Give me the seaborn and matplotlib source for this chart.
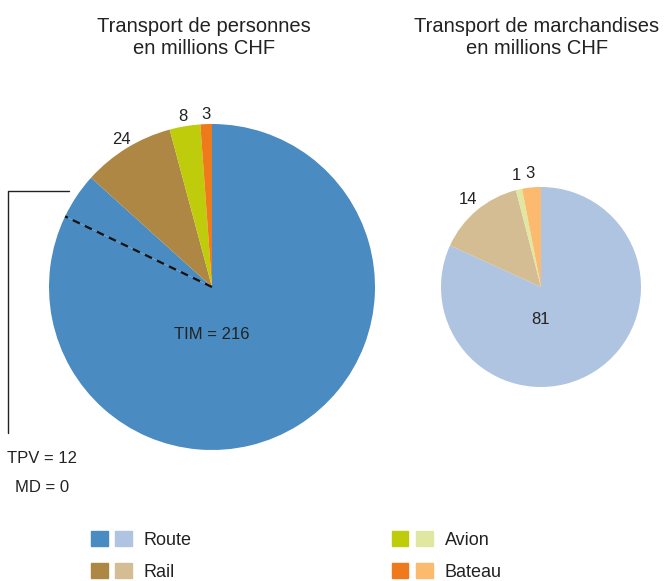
import numpy as np
import matplotlib
matplotlib.use("Agg")
import matplotlib.pyplot as plt
import seaborn as sns
from matplotlib.patches import Patch
from matplotlib.legend_handler import HandlerTuple

# data
modes = ["Route", "Rail", "Avion", "Bateau"]
pers_values = [228, 24, 8, 3]          # Route = TIM 216 + TPV 12 + MD 0
pers_tim = 216
pers_tpv = 12
pers_md = 0
march_values = [81, 14, 1, 3]
dark_colors = ["#4A8BC1", "#AE8744", "#BFCC0C", "#EE7A1B"]
light_colors = ["#AFC4E0", "#D4BD93", "#DFE7A0", "#FBBA6D"]
titles = ["Transport de personnes\nen millions CHF",
          "Transport de marchandises\nen millions CHF"]

sns.set_theme(style="white")
plt.rcParams["font.family"] = ["Liberation Sans", "DejaVu Sans"]
txt = "#222222"

fig = plt.figure(figsize=(6.64, 5.81), dpi=100)
W, H = 664, 581


def pie_axes(cx, cy, r):
    return fig.add_axes([(cx - r) / W, (H - cy - r) / H, 2 * r / W, 2 * r / H])


# left pie: Route split into TIM and TPV
ax1 = pie_axes(212, 287, 163)
left_vals = [pers_tim, pers_tpv] + pers_values[1:]
left_cols = [dark_colors[0], dark_colors[0]] + dark_colors[1:]
left_labels = ["", ""] + [str(v) for v in pers_values[1:]]
wedges, texts = ax1.pie(left_vals, colors=left_cols, labels=left_labels,
                        startangle=90, counterclock=False, labeldistance=1.06,
                        textprops=dict(fontsize=12, color=txt, ha="center", va="center"),
                        wedgeprops=dict(linewidth=0))
ax1.set_xlim(-1, 1)
ax1.set_ylim(-1, 1)
ax1.set_aspect("equal")

# dashed line between TIM and TPV
a = np.deg2rad(wedges[0].theta1)
ax1.plot([0, np.cos(a)], [0, np.sin(a)], color="#111111", ls=(0, (3.5, 2.5)), lw=1.6)
ax1.text(0, -0.29, f"TIM = {pers_tim}", fontsize=12, color=txt, ha="center", va="center")

# bracket for TPV / MD
tpv_mid = np.deg2rad((wedges[1].theta1 + wedges[1].theta2) / 2 - 2)
yb = np.sin(tpv_mid)
ax1.plot([-0.88, -1.25, -1.25], [yb, yb, -0.896], color="#222222", lw=1.0, clip_on=False)
ax1.text(-1.04, -1.05, f"TPV = {pers_tpv}", fontsize=12, color=txt, ha="center", va="center")
ax1.text(-1.04, -1.23, f"MD = {pers_md}", fontsize=12, color=txt, ha="center", va="center")
fig.text(204 / W, 1 - 37 / H, titles[0], fontsize=14.5, color=txt, ha="center", va="center",
         linespacing=1.2)

# right pie
ax2 = pie_axes(541, 287, 100)
right_labels = [""] + [str(v) for v in march_values[1:]]
w2, t2 = ax2.pie(march_values, colors=light_colors, labels=right_labels,
                 startangle=90, counterclock=False, labeldistance=1.14,
                 textprops=dict(fontsize=12, color=txt, ha="center", va="center"),
                 wedgeprops=dict(linewidth=0))
ax2.set_xlim(-1, 1)
ax2.set_ylim(-1, 1)
ax2.set_aspect("equal")
ax2.text(0, -0.32, str(march_values[0]), fontsize=12, color=txt, ha="center", va="center")
fig.text(537 / W, 1 - 37 / H, titles[1], fontsize=14.5, color=txt, ha="center", va="center",
         linespacing=1.2)

# legend with paired squares
handles = [(Patch(color=d), Patch(color=l)) for d, l in zip(dark_colors, light_colors)]
fig.legend(handles, modes, ncol=2, loc="upper left",
           bbox_to_anchor=(91 / W, 1 - 531 / H), bbox_transform=fig.transFigure,
           handler_map={tuple: HandlerTuple(ndivide=None, pad=0.44)},
           handlelength=2.27, handleheight=0.94, handletextpad=0.66,
           columnspacing=11.07, labelspacing=0.78, frameon=False,
           borderpad=0, borderaxespad=0, prop=dict(size=13))
for t in fig.legends[0].get_texts():
    t.set_color(txt)

fig.savefig("out.png", dpi=100, facecolor="white")
